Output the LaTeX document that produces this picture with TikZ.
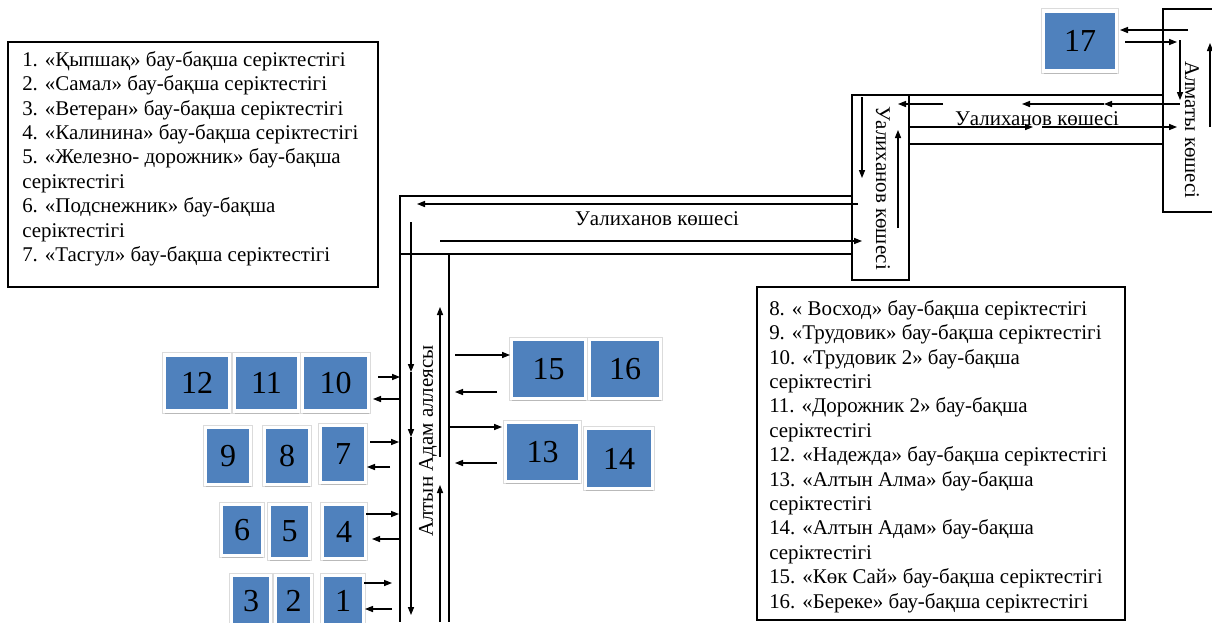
\documentclass[tikz,border=0pt]{standalone}
\usepackage{fontspec}
\setmainfont{Liberation Serif}
\usetikzlibrary{arrows.meta,shadows}

\begin{document}
\begin{tikzpicture}[x=0.75pt,y=-0.75pt,>={Triangle[length=6pt,width=4.6pt]},
    road/.style={line width=0.9pt},
    lane/.style={line width=0.8pt},
    key/.style={anchor=north west,align=left,inner sep=0pt,font=\fontsize{15.7}{18.3}\selectfont},
    street/.style={inner sep=0pt,font=\fontsize{15.7}{18}\selectfont},
    lot/.style={rectangle,inner sep=0pt,fill={rgb,255:red,79; green,129; blue,189},draw=white,line width=2.5pt,
        preaction={draw=black!14,line width=4pt},
        drop shadow={shadow xshift=0.6pt,shadow yshift=-2pt,fill=black!40},font=\fontsize{24}{24}\selectfont}]
    \useasboundingbox (0,0) rectangle (1212,622);

    %legend 1-7
    \draw [line width=0.8pt] (8,42) rectangle (378,287);
    \node [key] (key1) at (22,51) {1. «Қыпшақ» бау-бақша серіктестігі\\
        2. «Самал» бау-бақша серіктестігі\\
        3. «Ветеран» бау-бақша серіктестігі\\
        4. «Калинина» бау-бақша серіктестігі\\
        5. «Железно- дорожник» бау-бақша\\
        серіктестігі\\
        6. «Подснежник» бау-бақша\\
        серіктестігі\\
        7. «Тасгул» бау-бақша серіктестігі};
    %legend 8-16
    \draw [line width=0.8pt] (757,287) rectangle (1125,620);
    \node [key] (key2) at (769,300) {8. « Восход» бау-бақша серіктестігі\\
        9. «Трудовик» бау-бақша серіктестігі\\
        10. «Трудовик 2» бау-бақша\\
        серіктестігі\\
        11. «Дорожник 2» бау-бақша\\
        серіктестігі\\
        12. «Надежда» бау-бақша серіктестігі\\
        13. «Алтын Алма» бау-бақша\\
        серіктестігі\\
        14. «Алтын Адам» бау-бақша\\
        серіктестігі\\
        15. «Көк Сай» бау-бақша серіктестігі\\
        16. «Береке» бау-бақша серіктестігі};

    %lower street
    \draw [road] (852,196) -- (400,196) -- (400,622);
    \draw [road] (400,254) -- (852,254);
    \draw [road] (449,254) -- (449,622);
    \draw [lane] [->] (858,204) -- (417,204);
    \draw [lane] [->] (440,241) -- (862,241);
    \node [street,anchor=base] (street1) at (657,225) {Уалиханов көшесі};

    %turning street
    \draw [road] (852,95) rectangle (909,280);
    \draw [lane] [->] (862,97) -- (862,178);
    \draw [lane] [->] (898,228) -- (898,130);
    \node [street,rotate=-90] (street2) at (883,188) {Уалиханов көшесі};

    %upper street
    \draw [road] (909,95) -- (1163,95);
    \draw [road] (909,144) -- (1163,144);
    \draw [lane] [->] (909,127) -- (1033,127);
    \draw [lane] [->] (1042,127) -- (1177,127);
    \draw [lane] [->] (1180,104) -- (1104,104);
    \draw [lane] [->] (1104,104) -- (1022,104);
    \draw [lane] [->] (943,104) -- (898,104);
    \node [street,anchor=base] (street3) at (1037,125) {Уалиханов көшесі};

    %Almaty street
    \draw [road] (1212,9) -- (1163,9) -- (1163,212) -- (1212,212);
    \draw [lane] [->] (1210,127) -- (1210,43);
    \node [street,rotate=-90] (street4) at (1192,130) {Алматы көшесі};

    \node [lot,minimum width=55pt,minimum height=45pt] (lot17) at (1080,41) {17};
    \draw [lane] [->] (1188,30) -- (1120,30);
    \draw [lane] [->] (1125,42) -- (1177,42);
    \draw [lane] [->] (1180,40) -- (1180,100);

    %alley
    \draw [lane] [->] (411,222) -- (411,372);
    \draw [lane] [->] (411,372) -- (411,437);
    \draw [lane] [->] (411,437) -- (411,615);
    \draw [lane] [->] (440,457) -- (440,307);
    \draw [lane] [->] (440,622) -- (440,485);
    \node [street,rotate=90] (street5) at (428,441) {Алтын Адам аллеясы};

    %west side
    \node [lot,minimum width=49pt,minimum height=42pt] (lot12) at (197,383) {12};
    \node [lot,minimum width=48pt,minimum height=42pt] (lot11) at (266.5,383) {11};
    \node [lot,minimum width=49.5pt,minimum height=42pt] (lot10) at (335.5,383) {10};
    \node [lot,minimum width=34pt,minimum height=43pt] (lot9) at (228,456) {9};
    \node [lot,minimum width=34pt,minimum height=43pt] (lot8) at (287,456) {8};
    \node [lot,minimum width=34pt,minimum height=43pt] (lot7) at (343,454) {7};
    \node [lot,minimum width=31pt,minimum height=38.5pt] (lot6) at (242,530) {6};
    \node [lot,minimum width=30pt,minimum height=40.75pt] (lot5) at (289.5,531.5) {5};
    \node [lot,minimum width=32.5pt,minimum height=40.75pt] (lot4) at (344,531.5) {4};
    \node [lot,minimum width=29.5pt,minimum height=38.5pt] (lot3) at (251,601) {3};
    \node [lot,minimum width=27.25pt,minimum height=38.5pt] (lot2) at (293.5,601) {2};
    \node [lot,minimum width=31pt,minimum height=38.5pt] (lot1) at (343,601) {1};

    \draw [lane] [->] (378,377) -- (400,377);
    \draw [lane] [->] (400,399) -- (373,399);
    \draw [lane] [->] (370,442) -- (399,442);
    \draw [lane] [->] (390,467) -- (367,467);
    \draw [lane] [->] (366,514) -- (399,514);
    \draw [lane] [->] (400,539) -- (372,539);
    \draw [lane] [->] (364,583) -- (392,583);
    \draw [lane] [->] (392,609) -- (365,609);

    %east side
    \node [lot,minimum width=55.75pt,minimum height=44.5pt] (lot15) at (548.5,369) {15};
    \node [lot,minimum width=53.5pt,minimum height=44.5pt] (lot16) at (625,369) {16};
    \node [lot,minimum width=50.5pt,minimum height=45.25pt] (lot14) at (619,458.5) {14};
    \node [lot,minimum width=55.75pt,minimum height=44.5pt] (lot13) at (542.5,452) {13};

    \draw [lane] [->] (455,355) -- (510,355);
    \draw [lane] [->] (497,392) -- (455,392);
    \draw [lane] [->] (449,427) -- (502,427);
    \draw [lane] [->] (497,463) -- (455,463);
\end{tikzpicture}
\end{document}
